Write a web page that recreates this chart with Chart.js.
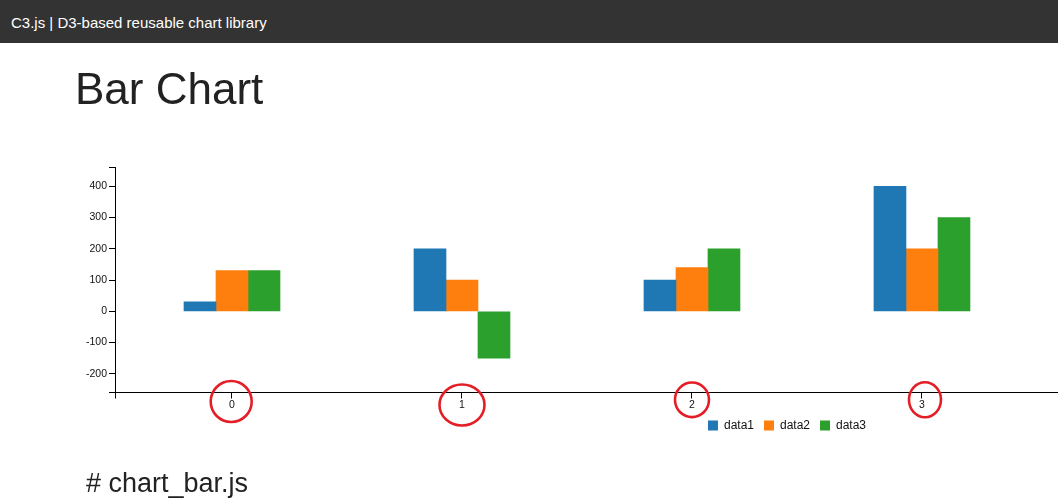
<!DOCTYPE html>
<html>
<head>
<meta charset="utf-8">
<script src="https://cdn.jsdelivr.net/npm/chart.js@4.4.0/dist/chart.umd.min.js"></script>
<style>
  html, body { margin:0; padding:0; width:1058px; height:504px; overflow:hidden; background:#fff;
    font-family:"Liberation Sans", Arial, sans-serif; }
  #wrap { position:absolute; left:0; top:0; width:1574px; height:504px; }
  #hdr { position:absolute; left:0; top:0; width:1058px; height:43px; background:#333; }
  #hdr span { position:absolute; left:11px; top:14.5px; font-size:15px; line-height:15px; color:#fff; white-space:nowrap; }
  #title { position:absolute; left:75px; top:67px; margin:0; font-size:44px; line-height:44px; font-weight:normal; color:#222; white-space:nowrap; }
  #sub { position:absolute; left:86px; top:469.5px; margin:0; font-size:27px; line-height:27px; font-weight:normal; color:#222; white-space:nowrap; }
</style>
</head>
<body>
<div id="wrap"><canvas id="c" width="1574" height="504"></canvas></div>
<div id="hdr"><span>C3.js | D3-based reusable chart library</span></div>
<h1 id="title">Bar Chart</h1>
<h2 id="sub"># chart_bar.js</h2>
<script>
// ---- data ----
const categories = [0, 1, 2, 3];
const data1 = [30, 200, 100, 400];
const data2 = [130, 100, 140, 200];
const data3 = [130, -150, 200, 300];
const seriesNames = ['data1', 'data2', 'data3'];
const seriesColors = ['#1f77b4', '#ff7f0e', '#2ca02c'];
const xTickValues = [0, 1, 2, 3];
const yTickValues = [-200, -100, 0, 100, 200, 300, 400];

const toPoints = arr => arr.map((v, i) => ({ x: categories[i], y: v }));
const seriesValues = [data1, data2, data3];

const tickFont = { family: '"Liberation Sans", Arial, sans-serif', size: 10.5 };

const circleMarks = {
  id: 'circleMarks',
  afterDraw(chart) {
    const xs = chart.scales.x;
    const base = chart.chartArea.bottom;
    const ctx = chart.ctx;
    // [tick value, dx, dy below axis, rx, ry]
    const marks = [[0, -0.8, 9, 20.5, 20.5], [1, 0, 12.5, 22.5, 20.5], [2, 0, 7.3, 17, 17.3], [3, 3, 7.2, 16, 17.5]];
    ctx.save();
    ctx.strokeStyle = '#e41e26';
    ctx.lineWidth = 2.6;
    marks.forEach(([v, dx, dy, rx, ry]) => {
      ctx.beginPath();
      ctx.ellipse(xs.getPixelForValue(v) + dx, base + dy, rx, ry, 0, 0, Math.PI * 2);
      ctx.stroke();
    });
    ctx.restore();
  }
};

new Chart(document.getElementById('c'), {
  type: 'bar',
  data: {
    datasets: seriesValues.map((vals, i) => ({
      label: seriesNames[i],
      data: toPoints(vals),
      backgroundColor: seriesColors[i],
      borderWidth: 0,
      barThickness: 32
    }))
  },
  plugins: [circleMarks],
  options: {
    responsive: false,
    animation: false,
    layout: { padding: { top: 167, left: 0, right: 0, bottom: 62.5 } },
    plugins: {
      tooltip: { enabled: false },
      title: { display: false },
      legend: {
        position: 'bottom',
        labels: {
          boxWidth: 10, boxHeight: 10, padding: 10, color: '#111',
          font: { family: '"Liberation Sans", Arial, sans-serif', size: 12 }
        }
      }
    },
    scales: {
      x: {
        type: 'linear',
        offset: false,
        min: -0.5087,
        max: 5.835,
        grid: { display: true, offset: false, drawOnChartArea: false, drawTicks: true, tickLength: 6, color: '#000', lineWidth: 1 },
        border: { display: true, color: '#000', width: 1 },
        ticks: {
          autoSkip: false, padding: 0, color: '#111', font: tickFont, maxRotation: 0,
          callback: v => xTickValues.includes(v) ? String(v) : ''
        },
        afterBuildTicks: s => { s.ticks = [s.min, ...xTickValues, s.max].map(v => ({ value: v })); },
        afterFit: s => { s.height = 17; }
      },
      y: {
        type: 'linear',
        min: -260,
        max: 462,
        grid: { display: true, drawOnChartArea: false, drawTicks: true, tickLength: 6, color: '#000', lineWidth: 1 },
        border: { display: true, color: '#000', width: 1 },
        ticks: {
          autoSkip: false, padding: 2, color: '#111', font: tickFont,
          callback: v => yTickValues.includes(v) ? String(v) : ''
        },
        afterBuildTicks: s => { s.ticks = [s.min, ...yTickValues, s.max].map(v => ({ value: v })); },
        afterFit: s => { s.width = 115; }
      }
    }
  }
});
</script>
</body>
</html>
